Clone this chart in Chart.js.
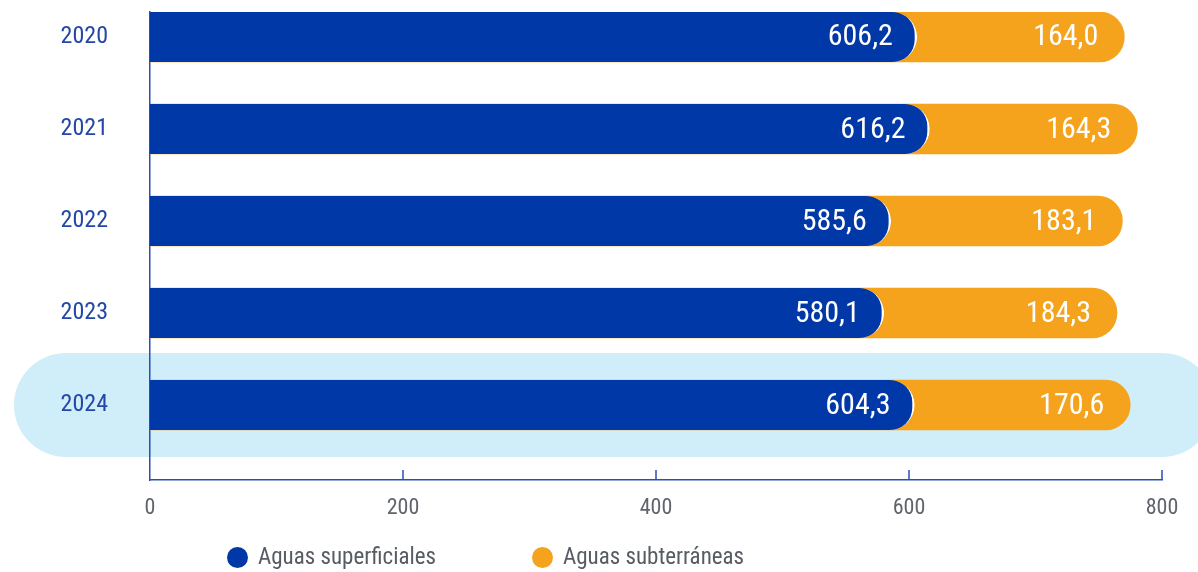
<!DOCTYPE html>
<html>
<head>
<meta charset="utf-8">
<script src="https://cdn.jsdelivr.net/npm/chart.js@4/dist/chart.umd.min.js"></script>
<style>
  html, body { margin: 0; padding: 0; background: #fff; }
  #wrap { position: relative; width: 1198px; height: 572px; }
  .leg { position: absolute; top: 543px; font: 23px "Roboto Condensed", sans-serif; color: #575c64; line-height: 28px; white-space: nowrap; }
  .leg i { position: absolute; left: -31px; top: 4px; width: 21px; height: 21px; border-radius: 50%; }
</style>
</head>
<body>
<div id="wrap">
  <canvas id="c" width="1198" height="572"></canvas>
  <div class="leg" style="left:258px"><i style="background:#0038a8"></i>Aguas superficiales</div>
  <div class="leg" style="left:563px"><i style="background:#f5a31c"></i>Aguas subterráneas</div>
</div>
<script>
const years = ["2020", "2021", "2022", "2023", "2024"];
const superficiales = [606.2, 616.2, 585.6, 580.1, 604.3];
const subterraneas = [164.0, 164.3, 183.1, 184.3, 170.6];
const xTicks = [0, 200, 400, 600, 800];
const highlightIndex = 4;

const BLUE = "#0038a8";
const ORANGE = "#f5a31c";
const AXIS = "#2b4db5";
const FONT = '"Roboto Condensed", sans-serif';

const fmt = v => v.toFixed(1).replace(".", ",");

// light band behind the highlighted year
const bandPlugin = {
    id: "band",
    beforeDraw(chart) {
        const y = chart.scales.y;
        const ctx = chart.ctx;
        const cy = y.getPixelForValue(highlightIndex);
        const half = Math.abs(y.getPixelForValue(1) - y.getPixelForValue(0)) * 0.565;
        ctx.save();
        ctx.fillStyle = "#d0eef9";
        ctx.beginPath();
        ctx.roundRect(14, cy - half, 1200, half * 2, half);
        ctx.fill();
        ctx.restore();
    }
};

// tick marks pointing up from the x axis + value labels
const extrasPlugin = {
    id: "extras",
    afterDatasetsDraw(chart) {
        const ctx = chart.ctx;
        const x = chart.scales.x;
        const bottom = chart.chartArea.bottom;
        ctx.save();
        ctx.strokeStyle = AXIS;
        ctx.lineWidth = 1.5;
        xTicks.slice(1).forEach(t => {
            const px = x.getPixelForValue(t);
            ctx.beginPath();
            ctx.moveTo(px, bottom - 10);
            ctx.lineTo(px, bottom);
            ctx.stroke();
        });

        ctx.fillStyle = "#fff";
        ctx.font = "30px " + FONT;
        ctx.textAlign = "right";
        ctx.textBaseline = "middle";
        const m0 = chart.getDatasetMeta(0);
        const m1 = chart.getDatasetMeta(1);
        m0.data.forEach((bar, i) => ctx.fillText(fmt(superficiales[i]), bar.x - 24, bar.y + 1));
        m1.data.forEach((bar, i) => ctx.fillText(fmt(subterraneas[i]), bar.x - 26, bar.y + 1));
        ctx.restore();
    }
};

new Chart(document.getElementById("c"), {
    type: "bar",
    data: {
        datasets: [{
            label: "Aguas superficiales",
            data: years.map((y, i) => ({ x: superficiales[i], y: i })),
            backgroundColor: BLUE,
            borderColor: "#ffffff",
            borderWidth: { top: 0, left: 0, bottom: 0, right: 2.5 },
            borderSkipped: false,
            borderRadius: { topLeft: 0, bottomLeft: 0, topRight: 25, bottomRight: 25 },
            barThickness: 50,
            grouped: false
        }, {
            label: "Aguas subterráneas",
            data: years.map((y, i) => ({ x: superficiales[i] + subterraneas[i], y: i })),
            backgroundColor: ORANGE,
            borderWidth: 0,
            borderSkipped: false,
            borderRadius: { topLeft: 0, bottomLeft: 0, topRight: 25, bottomRight: 25 },
            barThickness: 50,
            grouped: false
        }]
    },
    options: {
        indexAxis: "y",
        responsive: false,
        animation: false,
        layout: { padding: { top: 12, right: 36, left: 0, bottom: 0 } },
        plugins: {
            legend: { display: false },
            tooltip: { enabled: false }
        },
        scales: {
            x: {
                type: "linear",
                min: 0,
                max: 800,
                afterFit: s => { s.height = 92; s.paddingLeft = 0; s.paddingRight = 0; },
                afterBuildTicks: s => { s.ticks = xTicks.map(v => ({ value: v })); },
                grid: { display: false, drawTicks: false },
                border: { display: true, color: AXIS, width: 1.5 },
                ticks: { color: "#60656c", padding: 15, font: { family: FONT, size: 22 } }
            },
            y: {
                type: "linear",
                reverse: true,
                offset: false,
                min: -0.2717,
                max: 4.815,
                afterFit: s => { s.width = 150; s.paddingTop = 0; s.paddingBottom = 0; },
                afterBuildTicks: s => { s.ticks = years.map((y, i) => ({ value: i })); },
                grid: { display: false, drawTicks: false },
                border: { display: true, color: AXIS, width: 1.5 },
                ticks: {
                    color: "#2447a5",
                    padding: 42,
                    font: { family: FONT, size: 24 },
                    callback: v => years[v]
                }
            }
        }
    },
    plugins: [bandPlugin, extrasPlugin]
});
</script>
</body>
</html>
